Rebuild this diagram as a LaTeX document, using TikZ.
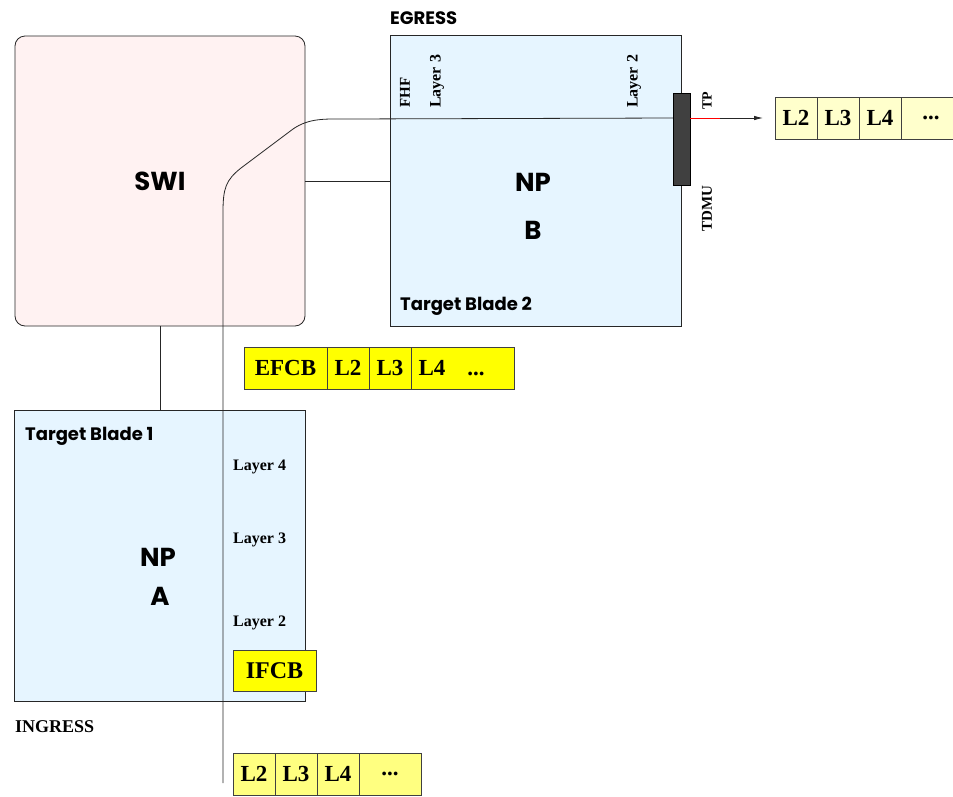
\documentclass[tikz,border=0pt]{standalone}
\usepackage{fontspec}
\setmainfont{Liberation Serif}
\newfontfamily\agfont{Poppins}
\usetikzlibrary{arrows.meta,positioning}
\definecolor{swifill}{HTML}{FFF2F2}
\definecolor{bladefill}{HTML}{E6F5FF}
\definecolor{fcbfill}{HTML}{FFFF00}
\definecolor{pktfill}{HTML}{FFFF80}
\definecolor{outfill}{HTML}{FFFFCC}
\definecolor{tdmufill}{HTML}{404040}
\tikzset{
  wire/.style={draw=black!85, line width=0.8pt},
  flow/.style={wire, -{Latex[length=9pt,width=4.5pt]}},
  tpwire/.style={draw=red, line width=0.9pt},
  swibox/.style={draw=black!85, fill=swifill, rounded corners=10pt, minimum width=290pt, minimum height=290pt, line width=0.8pt, font=\agfont\bfseries\fontsize{26}{28}\selectfont},
  blade/.style={draw=black!85, fill=bladefill, minimum width=291pt, minimum height=291pt, line width=0.8pt},
  bigname/.style={font=\agfont\bfseries\fontsize{26}{28}\selectfont, inner sep=0pt},
  tag/.style={font=\agfont\bfseries\fontsize{18}{20}\selectfont, inner sep=0pt, anchor=west},
  layer/.style={font=\bfseries\fontsize{16}{18}\selectfont, inner sep=0pt},
  vlayer/.style={layer, rotate=90, anchor=west},
  cell/.style={draw=black!75, line width=0.7pt, outer sep=0pt, minimum width=42pt, minimum height=42pt, inner sep=0pt, font=\bfseries\fontsize{23}{25}\selectfont},
  bar/.style={draw=black, fill=tdmufill, minimum width=17pt, minimum height=92pt, inner sep=0pt}
}
\begin{document}
\begin{tikzpicture}[x=1pt,y=-1pt]
  \useasboundingbox (0,0) rectangle (953,796);
  % switch and the two blades
  \node[swibox] (swi) at (160,181) {SWI};
  \node[blade] (npb) at (535.5,181) {};
  \node[blade] (npa) at (160,555.5) {};
  \draw[wire] (swi.east) -- (npb.west);
  \draw[wire] (swi.south) -- (npa.north);
  % blade texts
  \node[bigname] (npbn) at (533,182) {NP};
  \node[bigname] (npbb) at (533,230) {B};
  \node[bigname] (npan) at (158,557) {NP};
  \node[bigname] (npaa) at (160,596) {A};
  \node[tag] (egress) at (390,18) {EGRESS};
  \node[tag] (blade2) at (400,306) {Target Blade 2};
  \node[tag] (blade1) at (25,436) {Target Blade 1};
  \node[layer, anchor=west, font=\bfseries\fontsize{18}{20}\selectfont] (ingress) at (15,727) {INGRESS};
  % egress packet
  \node[cell, fill=outfill, anchor=north west] (outL2) at (775,97) {L2};
  \node[cell, fill=outfill, right=0pt of outL2] (outL3) {L3};
  \node[cell, fill=outfill, right=0pt of outL3] (outL4) {L4};
  \node[cell, fill=outfill, minimum width=60pt, right=0pt of outL4] (outdots) {\makebox[50pt]{...}\hspace{10pt}};
  % frame path through both blades
  \node[bar] (tdmu) at (681.5,139) {};
  \coordinate (flowstart) at (223,783);
  \draw[wire] (flowstart) -- (223,212) .. controls (223,188) and (226,180) .. (241,168)
    -- (293,129) .. controls (309,118) and (325,119) .. (345,119) -- (tdmu.west |- outL2.west);
  \draw[tpwire] (tdmu.east |- outL2.west) -- ++(30,0) coordinate (tpend);
  \draw[flow, shorten >=12pt] (tpend) -- (outL2.west);
  \node[vlayer, font=\bfseries\fontsize{14}{16}\selectfont] (tp) at (707,110) {TP};
  \node[vlayer, font=\bfseries\fontsize{15}{17}\selectfont] (tdmulabel) at (707,232) {TDMU};
  \node[vlayer, font=\bfseries\fontsize{15}{17}\selectfont] (fhf) at (405,108) {FHF};
  \node[vlayer] (egL3) at (437,108) {Layer 3};
  \node[vlayer] (egL2) at (634,108) {Layer 2};
  % fabric header packet
  \node[cell, fill=fcbfill, minimum width=83pt, anchor=north west] (efcb) at (244,347) {EFCB};
  \node[cell, fill=fcbfill, right=0pt of efcb] (efL2) {L2};
  \node[cell, fill=fcbfill, right=0pt of efL2] (efL3) {L3};
  \node[cell, fill=fcbfill, minimum width=103pt, right=0pt of efL3] (efL4) {\makebox[88pt][l]{L4\hspace{22pt}...}};
  % ingress side
  \node[layer, anchor=west] (inL4) at (233,467) {Layer 4};
  \node[layer, anchor=west] (inL3) at (233,540) {Layer 3};
  \node[layer, anchor=west] (inL2) at (233,623) {Layer 2};
  \node[cell, fill=fcbfill, minimum width=83pt, minimum height=41pt, anchor=north west, font=\bfseries\fontsize{24}{26}\selectfont] (ifcb) at (233,650) {IFCB};
  \node[cell, fill=pktfill, anchor=north west] (inpL2) at (233,753) {L2};
  \node[cell, fill=pktfill, right=0pt of inpL2] (inpL3) {L3};
  \node[cell, fill=pktfill, right=0pt of inpL3] (inpL4) {L4};
  \node[cell, fill=pktfill, minimum width=62pt, right=0pt of inpL4] (inpdots) {\makebox[48pt]{...}\hspace{14pt}};
\end{tikzpicture}
\end{document}
